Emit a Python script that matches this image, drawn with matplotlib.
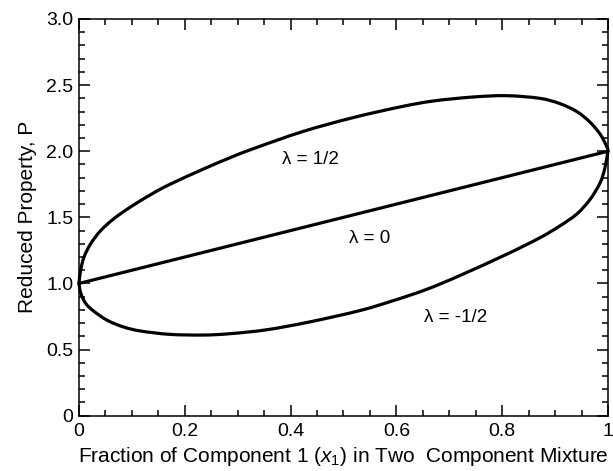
import matplotlib
matplotlib.use("Agg")
import matplotlib.pyplot as plt
from matplotlib.ticker import MultipleLocator, FixedLocator
from matplotlib.path import Path
from matplotlib.patches import PathPatch

plt.rcParams['font.family'] = ['Liberation Sans', 'DejaVu Sans']
plt.rcParams['mathtext.fontset'] = 'custom'
plt.rcParams['mathtext.it'] = 'Liberation Sans:italic'
plt.rcParams['mathtext.rm'] = 'Liberation Sans'

# lambda = 1/2 (upper curve)
x_up = [0.0, 0.003, 0.0095, 0.022, 0.041, 0.066, 0.098, 0.139, 0.172, 0.235, 0.285,
        0.33, 0.424, 0.519, 0.607, 0.67, 0.745, 0.808, 0.871, 0.909, 0.941,
        0.966, 0.985, 0.996, 1.0]
p_up = [1.0, 1.10, 1.20, 1.30, 1.40, 1.49, 1.58, 1.68, 1.75, 1.865, 1.95,
        2.02, 2.15, 2.255, 2.335, 2.38, 2.41, 2.42, 2.40, 2.36, 2.30,
        2.22, 2.13, 2.05, 2.01]

# lambda = 0 (straight line)
x_mid = [0.0, 1.0]
p_mid = [1.0, 2.0]

# lambda = -1/2 (lower curve)
x_lo = [0.0, 0.003, 0.0125, 0.028, 0.054, 0.085, 0.117, 0.172, 0.235, 0.285, 0.355,
        0.437, 0.531, 0.594, 0.657, 0.72, 0.808, 0.871, 0.909, 0.941, 0.966,
        0.985, 0.994, 1.0]
p_lo = [1.0, 0.93, 0.85, 0.79, 0.72, 0.67, 0.64, 0.615, 0.61, 0.62, 0.65,
        0.71, 0.795, 0.87, 0.955, 1.06, 1.22, 1.345, 1.435, 1.525, 1.635,
        1.76, 1.87, 2.0]

labels = ["λ = 1/2", "λ = 0", "λ = -1/2"]
label_x = [0.437, 0.55, 0.712]
label_y = [1.935, 1.34, 0.74]

x_ticks = [0, 0.2, 0.4, 0.6, 0.8, 1.0]
x_ticklabels = ["0", "0.2", "0.4", "0.6", "0.8", "1"]
y_ticks = [0, 0.5, 1.0, 1.5, 2.0, 2.5, 3.0]
y_ticklabels = ["0", "0.5", "1.0", "1.5", "2.0", "2.5", "3.0"]


def smooth_path(ax, xs, ps):
    # Catmull-Rom through the read points, drawn as cubic Bezier in display space
    pts = ax.transData.transform(list(zip(xs, ps)))
    n = len(pts)
    verts = [tuple(pts[0])]
    codes = [Path.MOVETO]
    for i in range(n - 1):
        p0 = pts[i - 1] if i > 0 else pts[i]
        p1 = pts[i]
        p2 = pts[i + 1]
        p3 = pts[i + 2] if i + 2 < n else pts[i + 1]
        c1 = p1 + (p2 - p0) / 6.0
        c2 = p2 - (p3 - p1) / 6.0
        verts += [tuple(c1), tuple(c2), tuple(p2)]
        codes += [Path.CURVE4] * 3
    return Path(verts, codes)


fig = plt.figure(figsize=(6.13, 4.71), dpi=100)
ax = fig.add_axes([0.1289, 0.1174, 0.8629, 0.8423])
ax.set_xlim(0, 1)
ax.set_ylim(0, 3)

for xs, ps in [(x_up, p_up), (x_mid, p_mid), (x_lo, p_lo)]:
    path = smooth_path(ax, xs, ps)
    patch = PathPatch(path, facecolor='none', edgecolor='black', lw=2.3,
                      capstyle='round', joinstyle='round',
                      transform=None, clip_on=False)
    fig.patches.append(patch)
    patch.set_figure(fig)

for t, tx, ty in zip(labels, label_x, label_y):
    ax.text(tx, ty, t, ha='center', va='center', fontsize=13.5)

ax.xaxis.set_major_locator(FixedLocator(x_ticks))
ax.set_xticklabels(x_ticklabels)
ax.yaxis.set_major_locator(FixedLocator(y_ticks))
ax.set_yticklabels(y_ticklabels)
ax.xaxis.set_minor_locator(MultipleLocator(0.05))
ax.yaxis.set_minor_locator(MultipleLocator(0.1))
ax.tick_params(which='both', direction='in', top=True, right=True, width=1.1)
ax.tick_params(which='major', length=8, labelsize=14)
ax.tick_params(axis='x', which='major', pad=5)
ax.tick_params(axis='y', which='major', pad=4)
ax.tick_params(which='minor', length=4.5)
for s in ax.spines.values():
    s.set_linewidth(1.1)

ax.set_xlabel(r"Fraction of Component 1 ($\mathit{x}_{\mathit{1}}$) in Two  Component Mixture",
              fontsize=15, labelpad=4)
ax.set_ylabel("Reduced Property, P", fontsize=15, labelpad=7)

fig.savefig("out.png", dpi=100)
